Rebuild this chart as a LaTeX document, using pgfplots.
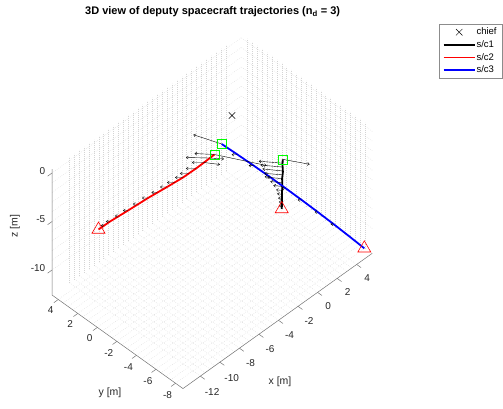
\documentclass[border=0pt]{standalone}
\usepackage{fontspec}
\setmainfont{Liberation Sans}
\usepackage{pgfplots}
\pgfplotsset{compat=1.18}
\usetikzlibrary{calc,arrows.meta}

\definecolor{axgray}{RGB}{38,38,38}
\definecolor{mgreen}{RGB}{0,255,0}

\pgfplotsset{
  linelegend/.style={legend image code/.code={\draw[##1] (0pt,0pt) -- (31pt,0pt);}},
  marklegend/.style={legend image code/.code={\draw[##1, mark repeat=2, mark phase=2] plot coordinates {(0pt,0pt) (15.5pt,0pt) (31pt,0pt)};}},
  ctrl/.style={forget plot, black, line width=0.4pt,
    -{Straight Barb[length=2pt,width=3pt]},
    quiver={u=\thisrow{u}, v=\thisrow{v}, w=\thisrow{w}}},
}

\begin{document}
\begin{tikzpicture}
\begin{axis}[
  x={(9.77pt,6.98pt)}, y={(-9.77pt,6.98pt)}, z={(0pt,9.7pt)},
  xmin=-13.78, xmax=5.59, ymin=-8.76, ymax=4.64, zmin=-12.58, zmax=0.41,
  xtick={-12,-10,...,4}, ytick={-8,-6,...,4}, ztick={-10,-5,0},
  minor x tick num=3, minor y tick num=3, minor z tick num=4,
  grid=both,
  major grid style={black!17, dash pattern=on 0.45pt off 1.55pt, line width=0.45pt},
  minor grid style={black!17, dash pattern=on 0.45pt off 1.55pt, line width=0.45pt},
  axis line style={draw=none},
  tick align=outside, major tick length=4pt, minor tick length=0pt,
  tick style={draw=none},
  ticklabel style={font=\fontsize{10}{11}\selectfont, text=axgray},
  xticklabel style={xshift=3pt, yshift=-3pt},
  /pgf/number format/assume math mode=true,
  xlabel={x [m]}, ylabel={y [m]}, zlabel={z [m]},
  every axis x label/.style={at={(axis cs:-8.33,-13.24,-12.58)}, anchor=center},
  every axis y label/.style={at={(axis cs:-17.81,-5.32,-12.58)}, anchor=center},
  every axis z label/.style={at={(axis cs:-15.38,6.84,-5.9)}, anchor=center, rotate=90},
  label style={font=\fontsize{10.5}{12}\selectfont, text=axgray},
  title={3D view of deputy spacecraft trajectories (n\textsubscript{d} = 3)},
  title style={at={(axis cs:5.69,7.67,0.41)}, anchor=center, yshift=-6pt, font=\bfseries\fontsize{11}{13}\selectfont},
  legend style={at={(axis cs:19.63,-8.04,0.41)}, anchor=north east, draw=black!45, fill=white,
    font=\fontsize{9.5}{11}\selectfont, inner xsep=3.5pt, inner ysep=1.5pt, row sep=0.3pt, cells={anchor=west},
    /tikz/every odd column/.append style={column sep=-1pt}},
  linelegend,
  clip=false,
]
% chief at the origin of the Hill frame
\addplot3[only marks, mark=x, mark size=4.5pt, black, line width=0.5pt, marklegend]
  coordinates {(0,0,-0.65)};
\addlegendentry{chief}

% deputy trajectories
\addplot3[black, line width=1.8pt] table {
x y z
-0.30 -5.49 -1.00
-0.31 -5.48 -1.60
-0.29 -5.50 -2.30
-0.33 -5.46 -3.00
-0.32 -5.47 -3.80
-0.34 -5.45 -4.60
-0.33 -5.46 -5.40
-0.35 -5.44 -6.12
};
\addlegendentry{s/c1}

\addplot3[red, line width=1.8pt] table {
x y z
-2.751 -0.960 -2.00
-3.513 -0.852 -2.20
-4.388 -0.703 -2.45
-5.489 -0.474 -2.75
-6.780 -0.127 -3.05
-8.297 0.300 -3.40
-9.973 0.671 -3.75
-11.439 1.048 -4.10
-12.392 1.272 -4.40
};
\addlegendentry{s/c2}

\addplot3[blue, line width=1.8pt] table {
x y z
-1.630 -0.576 -2.0
-0.814 -1.397 -3.1
-0.012 -2.233 -4.2
0.770 -3.089 -5.3
1.529 -3.967 -6.4
2.274 -4.860 -7.5
2.998 -5.775 -8.6
3.707 -6.703 -9.7
4.395 -7.653 -10.8
5.145 -8.397 -12.0
};
\addlegendentry{s/c3}

% control vectors along each trajectory
\addplot3[ctrl] table {
x y z u v w
-0.30 -5.49 -1.00 1.024 -1.740 0
-0.30 -5.49 -1.40 -1.085 1.372 0
-0.31 -5.48 -1.80 -0.982 1.269 0
-0.31 -5.48 -2.20 -0.880 1.167 0
-0.32 -5.47 -2.60 -0.814 1.029 0
-0.32 -5.47 -3.00 -0.660 0.875 0
-0.32 -5.47 -3.40 -0.543 0.686 0
-0.32 -5.47 -3.80 -0.389 0.532 0
-0.33 -5.46 -4.20 -0.271 0.343 0
-0.33 -5.46 -4.60 -0.220 0.292 0
-0.33 -5.46 -5.00 -0.205 0.205 0
-0.34 -5.45 -5.40 -0.154 0.154 0
-0.34 -5.45 -5.80 -0.154 0.154 0
};
\addplot3[ctrl] table {
x y z u v w
-2.751 -0.960 -2.000 -0.952 1.095 0
-2.751 -0.960 -2.000 1.873 -3.449 0
-3.168 -0.916 -2.093 -1.192 1.264 0
-3.168 -0.916 -2.093 0.645 -0.788 0
-3.711 -0.845 -2.217 -0.614 0.614 0
-3.711 -0.845 -2.217 0.676 -0.963 0
-4.388 -0.703 -2.450 -0.512 0.512 0
-5.050 -0.649 -2.528 -0.461 0.461 0
-5.489 -0.474 -2.750 -0.409 0.409 0
-6.210 -0.376 -2.817 -0.409 0.409 0
-6.780 -0.127 -3.050 -0.358 0.358 0
-7.571 0.055 -3.179 -0.307 0.307 0
-8.297 0.300 -3.400 -0.307 0.307 0
-9.112 0.509 -3.583 -0.256 0.256 0
-9.973 0.671 -3.750 -0.256 0.256 0
-10.671 0.896 -3.976 -0.205 0.205 0
-11.439 1.048 -4.100 -0.205 0.205 0
-11.900 1.202 -4.292 -0.154 0.154 0
};
\addplot3[ctrl] table {
x y z u v w
-1.630 -0.576 -2.0 -0.787 2.120 0
-0.814 -1.397 -3.1 -0.307 0.307 0
-0.012 -2.233 -4.2 -0.256 0.256 0
0.770 -3.089 -5.3 -0.256 0.256 0
1.529 -3.967 -6.4 -0.205 0.205 0
2.274 -4.860 -7.5 -0.205 0.205 0
2.998 -5.775 -8.6 -0.154 0.154 0
3.707 -6.703 -9.7 -0.154 0.154 0
};

% initial and final positions
\addplot3[forget plot, only marks, mark=square, mark size=4.5pt, color=mgreen, line width=0.6pt]
  coordinates {(-0.30,-5.49,-1.00) (-2.751,-0.960,-2.00) (-1.630,-0.576,-2.0)};
\addplot3[forget plot, only marks, mark=triangle, mark size=7.5pt, color=red, line width=0.6pt]
  coordinates {(-0.35,-5.44,-6.12) (-12.392,1.272,-4.40) (5.145,-8.397,-12.0)};

% visible axis lines and their outward tick marks
\draw[black!55, line width=0.5pt] (axis cs:-13.78,4.64,0.41) -- (axis cs:-13.78,4.64,-12.58)
  -- (axis cs:-13.78,-8.76,-12.58) -- (axis cs:5.59,-8.76,-12.58);
\pgfplotsinvokeforeach{-12,-10,-8,-6,-4,-2,0,2,4}{
  \draw[black!55, line width=0.5pt] (axis cs:#1,-8.76,-12.58) -- (axis cs:#1,-9.21,-12.58);}
\pgfplotsinvokeforeach{-8,-6,-4,-2,0,2,4}{
  \draw[black!55, line width=0.5pt] (axis cs:-13.78,#1,-12.58) -- (axis cs:-14.23,#1,-12.58);}
\pgfplotsinvokeforeach{-10,-5,0}{
  \draw[black!55, line width=0.5pt] (axis cs:-13.78,4.64,#1) -- (axis cs:-14.23,4.64,#1);}
\coordinate (O) at (axis cs:0,0,0);
\end{axis}
\pgfresetboundingbox
\path[use as bounding box] ($(O)+(-232pt,109.2pt)$) rectangle ($(O)+(271pt,-298.8pt)$);
\end{tikzpicture}
\end{document}
